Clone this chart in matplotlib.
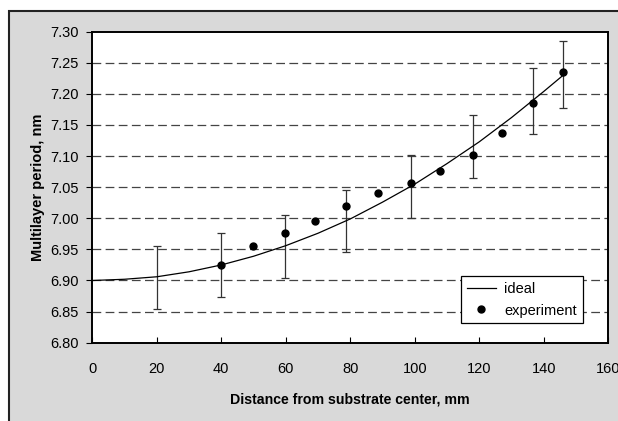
import matplotlib
matplotlib.use("Agg")
import matplotlib.pyplot as plt
from matplotlib.patches import Rectangle

plt.rcParams['font.family'] = ['Liberation Sans', 'DejaVu Sans']

# Ideal (calculated) period profile
ideal_x = [0, 10, 20, 30, 40, 50, 60, 70, 80, 90, 100, 110, 120, 130, 140, 146]
ideal_y = [6.900, 6.902, 6.906, 6.914, 6.925, 6.939, 6.956, 6.976, 6.999,
           7.026, 7.055, 7.088, 7.123, 7.162, 7.204, 7.230]

# Measured periods
exp_x = [40, 49.8, 59.6, 69.2, 78.8, 88.7, 98.8, 107.8, 117.9, 127.0, 136.5, 146.1]
exp_y = [6.925, 6.955, 6.976, 6.995, 7.020, 7.040, 7.057, 7.076, 7.101, 7.137, 7.186, 7.236]

# Tolerance band around the ideal profile
err_x = [20, 40, 59.6, 78.8, 98.8, 117.9, 136.5, 146.1]
err_center = [6.905, 6.925, 6.955, 6.996, 7.051, 7.115, 7.189, 7.231]
err_half = [0.051, 0.051, 0.051, 0.050, 0.051, 0.051, 0.053, 0.054]

x_ticks = [0, 20, 40, 60, 80, 100, 120, 140, 160]
y_ticks = [6.80, 6.85, 6.90, 6.95, 7.00, 7.05, 7.10, 7.15, 7.20, 7.25, 7.30]

fig = plt.figure(figsize=(6.18, 4.21), dpi=100, facecolor='white')

# chart area frame
frame = Rectangle((8.5 / 618, -0.1), 1.2, 1 - 10.5 / 421 + 0.1,
                  transform=fig.transFigure, facecolor='#d9d9d9',
                  edgecolor='#222222', linewidth=1.5, zorder=-10)
fig.patches.append(frame)

ax = fig.add_axes([92.3 / 618, (421 - 342.7) / 421,
                   (608.3 - 92.3) / 618, (342.7 - 31.7) / 421])
ax.set_facecolor('white')

for yv in y_ticks[1:-1]:
    ax.axhline(yv, color='#444444', linewidth=0.9, dashes=(7, 3.5), zorder=1)

ax.errorbar(err_x, err_center, yerr=err_half, fmt='none', ecolor='#333333',
            elinewidth=0.9, capsize=2.8, capthick=0.9, zorder=2)
ax.plot(ideal_x, ideal_y, color='black', linewidth=0.9, label='ideal', zorder=3)
ax.plot(exp_x, exp_y, linestyle='none', marker='o', markersize=5,
        color='black', label='experiment', zorder=4)

ax.set_xlim(0, 160)
ax.set_ylim(6.80, 7.30)
ax.set_xticks(x_ticks)
ax.set_yticks(y_ticks)
ax.set_yticklabels([f'{v:.2f}' for v in y_ticks])
ax.tick_params(axis='x', direction='in', length=4, width=0.8, pad=14,
               labelsize=10.5, colors='black')
ax.tick_params(axis='y', direction='out', length=4, width=0.8, pad=5.5,
               labelsize=10.5, colors='black')
for sp in ax.spines.values():
    sp.set_linewidth(1.4)
    sp.set_color('black')

ax.set_xlabel('Distance from substrate center, mm', fontsize=10.2,
              fontweight='bold', labelpad=12)
ax.set_ylabel('Multilayer period, nm', fontsize=10.5, fontweight='bold',
              labelpad=4)

leg = ax.legend(loc='lower left', bbox_to_anchor=(0.714, 0.062),
                frameon=True, fancybox=False, fontsize=10.5,
                handlelength=2.0, handletextpad=0.6, borderpad=0.4,
                labelspacing=0.5, borderaxespad=0)
leg.get_frame().set_edgecolor('black')
leg.get_frame().set_linewidth(0.9)
leg.get_frame().set_facecolor('white')
leg.get_frame().set_alpha(1)

fig.savefig('out.png', dpi=100, facecolor=fig.get_facecolor())
